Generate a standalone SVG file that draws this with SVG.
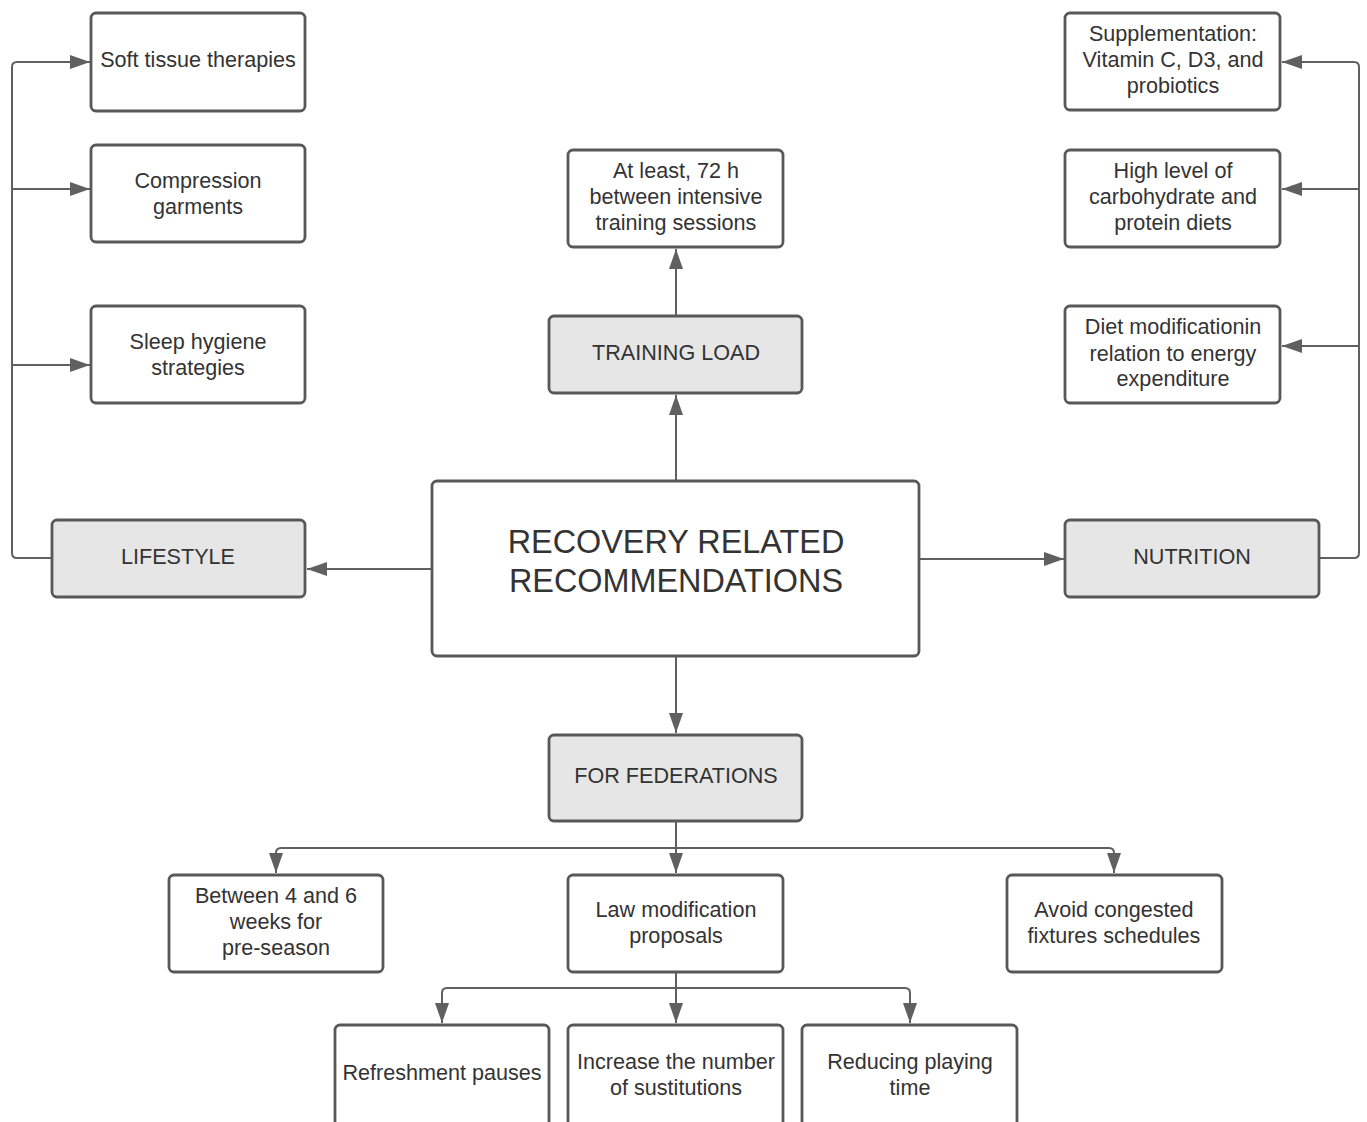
<svg xmlns="http://www.w3.org/2000/svg" width="1367" height="1122" viewBox="0 0 1367 1122">
<defs>
<style>
.box{fill:#ffffff;stroke:#585858;stroke-width:2.8}
.hdr{fill:#e6e6e6;stroke:#585858;stroke-width:2.8}
.t{font-family:"Liberation Sans",Arial,sans-serif;font-size:21.6px;fill:#333333;text-anchor:middle;dominant-baseline:central}
.big{font-size:32.4px}
.c{fill:none;stroke:#606060;stroke-width:2}
</style>
<marker id="ah" viewBox="0 0 20 14" refX="20" refY="7" markerWidth="20" markerHeight="14" markerUnits="userSpaceOnUse" orient="auto">
<path d="M0,0 L20,7 L0,14 Z" fill="#606060"/>
</marker>
</defs>
<rect width="1367" height="1122" fill="#ffffff"/>
<g id="connectors">
<path class="c" d="M52,558 H17 Q12,558 12,553 V67 Q12,62 17,62 H90" marker-end="url(#ah)"/>
<path class="c" d="M12,189 H90" marker-end="url(#ah)"/>
<path class="c" d="M12,365 H90" marker-end="url(#ah)"/>
<path class="c" d="M1319,558 H1354 Q1359,558 1359,553 V67 Q1359,62 1354,62 H1282" marker-end="url(#ah)"/>
<path class="c" d="M1359,189 H1282" marker-end="url(#ah)"/>
<path class="c" d="M1359,346 H1282" marker-end="url(#ah)"/>
<path class="c" d="M676,481 V395" marker-end="url(#ah)"/>
<path class="c" d="M676,316 V249" marker-end="url(#ah)"/>
<path class="c" d="M432,569 H307" marker-end="url(#ah)"/>
<path class="c" d="M919,559 H1064" marker-end="url(#ah)"/>
<path class="c" d="M676,656 V733" marker-end="url(#ah)"/>
<path class="c" d="M676,821 V873" marker-end="url(#ah)"/>
<path class="c" d="M676,848 H281 Q276,848 276,853 V873" marker-end="url(#ah)"/>
<path class="c" d="M676,848 H1109 Q1114,848 1114,853 V873" marker-end="url(#ah)"/>
<path class="c" d="M676,972 V1023" marker-end="url(#ah)"/>
<path class="c" d="M676,988 H447 Q442,988 442,993 V1023" marker-end="url(#ah)"/>
<path class="c" d="M676,988 H905 Q910,988 910,993 V1023" marker-end="url(#ah)"/>
</g>
<g id="soft-tissue"><rect class="box" x="91" y="13" width="214" height="98" rx="5"/><text class="t" x="198" y="59">Soft tissue therapies</text></g>
<g id="compression"><rect class="box" x="91" y="145" width="214" height="97" rx="5"/><text class="t" x="198" y="180">Compression</text><text class="t" x="198" y="206">garments</text></g>
<g id="sleep"><rect class="box" x="91" y="306" width="214" height="97" rx="5"/><text class="t" x="198" y="341">Sleep hygiene</text><text class="t" x="198" y="367">strategies</text></g>
<g id="lifestyle"><rect class="hdr" x="52" y="520" width="253" height="77" rx="5"/><text class="t" x="178" y="556">LIFESTYLE</text></g>
<g id="center"><rect class="box" x="432" y="481" width="487" height="175" rx="5"/><text class="t big" x="676" y="542">RECOVERY RELATED</text><text class="t big" x="676" y="581">RECOMMENDATIONS</text></g>
<g id="training-load"><rect class="hdr" x="549" y="316" width="253" height="77" rx="5"/><text class="t" x="676" y="352">TRAINING LOAD</text></g>
<g id="at-least"><rect class="box" x="568" y="150" width="215" height="97" rx="5"/><text class="t" x="676" y="170">At least, 72 h</text><text class="t" x="676" y="196">between intensive</text><text class="t" x="676" y="222">training sessions</text></g>
<g id="nutrition"><rect class="hdr" x="1065" y="520" width="254" height="77" rx="5"/><text class="t" x="1192" y="556">NUTRITION</text></g>
<g id="supplementation"><rect class="box" x="1065" y="13" width="215" height="97" rx="5"/><text class="t" x="1173" y="33">Supplementation:</text><text class="t" x="1173" y="59">Vitamin C, D3, and</text><text class="t" x="1173" y="85">probiotics</text></g>
<g id="high-level"><rect class="box" x="1065" y="150" width="215" height="97" rx="5"/><text class="t" x="1173" y="170">High level of</text><text class="t" x="1173" y="196">carbohydrate and</text><text class="t" x="1173" y="222">protein diets</text></g>
<g id="diet-mod"><rect class="box" x="1065" y="306" width="215" height="97" rx="5"/><text class="t" x="1173" y="326">Diet modificationin</text><text class="t" x="1173" y="353">relation to energy</text><text class="t" x="1173" y="378">expenditure</text></g>
<g id="federations"><rect class="hdr" x="549" y="735" width="253" height="86" rx="5"/><text class="t" x="676" y="775">FOR FEDERATIONS</text></g>
<g id="between"><rect class="box" x="169" y="875" width="214" height="97" rx="5"/><text class="t" x="276" y="895">Between 4 and 6</text><text class="t" x="276" y="921">weeks for</text><text class="t" x="276" y="947">pre-season</text></g>
<g id="law"><rect class="box" x="568" y="875" width="215" height="97" rx="5"/><text class="t" x="676" y="909">Law modification</text><text class="t" x="676" y="935">proposals</text></g>
<g id="avoid"><rect class="box" x="1007" y="875" width="215" height="97" rx="5"/><text class="t" x="1114" y="909">Avoid congested</text><text class="t" x="1114" y="935">fixtures schedules</text></g>
<g id="refreshment"><rect class="box" x="335" y="1025" width="214" height="110" rx="5"/><text class="t" x="442" y="1072">Refreshment pauses</text></g>
<g id="increase"><rect class="box" x="568" y="1025" width="215" height="110" rx="5"/><text class="t" x="676" y="1061">Increase the number</text><text class="t" x="676" y="1087">of sustitutions</text></g>
<g id="reducing"><rect class="box" x="802" y="1025" width="215" height="110" rx="5"/><text class="t" x="910" y="1061">Reducing playing</text><text class="t" x="910" y="1087">time</text></g>
</svg>
